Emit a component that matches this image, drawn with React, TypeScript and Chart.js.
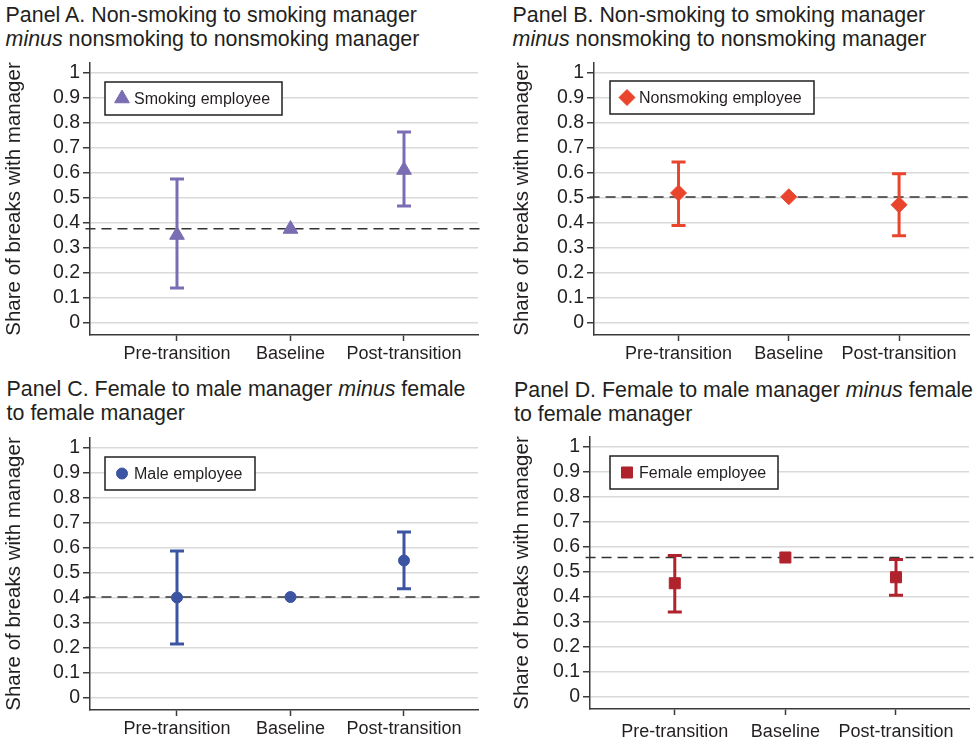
import React, { useEffect, useRef } from 'react';
import { Chart, registerables } from 'chart.js';
import { drawPoint } from 'chart.js/helpers';

Chart.register(...registerables);

// ---------------- data ----------------
const categories = ['Pre-transition', 'Baseline', 'Post-transition'];
const yTickValues = [0, 0.1, 0.2, 0.3, 0.4, 0.5, 0.6, 0.7, 0.8, 0.9, 1];
const yTickLabels = ['0', '0.1', '0.2', '0.3', '0.4', '0.5', '0.6', '0.7', '0.8', '0.9', '1'];
const yAxisTitle = 'Share of breaks with manager';

// Panel A: smoking employee
const smokingEmpPoint = [0.352, 0.376, 0.612];
const smokingEmpLow = [0.14, null, 0.468];
const smokingEmpHigh = [0.576, null, 0.764];
const smokingEmpRef = 0.377;

// Panel B: nonsmoking employee
const nonsmokingEmpPoint = [0.52, 0.505, 0.473];
const nonsmokingEmpLow = [0.39, null, 0.349];
const nonsmokingEmpHigh = [0.644, null, 0.597];
const nonsmokingEmpRef = 0.504;

// Panel C: male employee
const maleEmpPoint = [0.402, 0.404, 0.55];
const maleEmpLow = [0.216, null, 0.437];
const maleEmpHigh = [0.588, null, 0.664];
const maleEmpRef = 0.404;

// Panel D: female employee
const femaleEmpPoint = [0.455, 0.558, 0.479];
const femaleEmpLow = [0.34, null, 0.407];
const femaleEmpHigh = [0.566, null, 0.55];
const femaleEmpRef = 0.558;

// ---------------- styling ----------------
const FONT = '"Liberation Sans", Arial, Helvetica, sans-serif';
const TEXT = '#231f20';
const AXIS = '#3a3a3a';
const GRID = '#d9d9d9';

const X_MIN = 0.2335;
const X_MAX_NARROW = 3.652;
const Y_MIN = -0.048;
const Y_MAX = 1.04;

type PanelCfg = {
  label: string;
  color: string;
  pointStyle: string;
  radius: number;
  point: number[];
  low: (number | null)[];
  high: (number | null)[];
  ref: number;
  left: number;
  top: number;
  w: number;
  h: number;
  rightPad: number;
  xh: number;
  xMax: number;
  yTitlePad: number;
  xLabelPad: number;
  legendDx: number;
  legendDy: number;
};

const legendBoxPlugin = {
  id: 'legendBox',
  afterDatasetsDraw(chart: any, _args: any, opts: any) {
    if (!opts || !opts.text) return;
    const { ctx, chartArea } = chart;
    const x = chartArea.left + opts.dx;
    const y = chartArea.top + opts.dy;
    ctx.save();
    ctx.font = `16px ${FONT}`;
    const tw = ctx.measureText(opts.text).width;
    const w = Math.round(29 + tw + 12);
    const h = 33;
    ctx.fillStyle = '#ffffff';
    ctx.fillRect(x, y, w, h);
    ctx.strokeStyle = TEXT;
    ctx.lineWidth = 1.5;
    ctx.strokeRect(x, y, w, h);
    ctx.fillStyle = opts.color;
    ctx.strokeStyle = opts.color;
    ctx.lineWidth = 1;
    drawPoint(ctx, { pointStyle: opts.pointStyle, radius: opts.radius, borderWidth: 1, rotation: 0 } as any, x + 17, y + h / 2);
    ctx.fillStyle = TEXT;
    ctx.textBaseline = 'middle';
    ctx.textAlign = 'left';
    ctx.fillText(opts.text, x + 29, y + h / 2 + 1);
    ctx.restore();
  },
};

function buildConfig(cfg: PanelCfg): any {
  const datasets: any[] = [];
  // reference dashed line
  datasets.push({
    type: 'scatter',
    showLine: true,
    data: [
      { x: X_MIN - 0.04, y: cfg.ref },
      { x: cfg.xMax + 0.04, y: cfg.ref },
    ],
    borderColor: '#333333',
    borderWidth: 1.5,
    borderDash: [10, 6],
    pointRadius: 0,
    clip: false,
    order: 4,
  });
  // whiskers + caps
  cfg.low.forEach((lo, i) => {
    const hi = cfg.high[i];
    if (lo == null || hi == null) return;
    datasets.push({
      type: 'scatter',
      showLine: true,
      data: [
        { x: i + 1, y: lo },
        { x: i + 1, y: hi },
      ],
      borderColor: cfg.color,
      borderWidth: 3,
      pointRadius: 0,
      order: 3,
    });
    datasets.push({
      type: 'scatter',
      data: [
        { x: i + 1, y: lo },
        { x: i + 1, y: hi },
      ],
      pointStyle: 'line',
      pointRadius: 7,
      borderColor: cfg.color,
      pointBorderWidth: 3,
      borderWidth: 3,
      order: 2,
    });
  });
  // markers
  datasets.push({
    type: 'scatter',
    label: cfg.label,
    data: cfg.point.map((v, i) => ({ x: i + 1, y: v })),
    pointStyle: cfg.pointStyle,
    pointRadius: cfg.radius,
    backgroundColor: cfg.color,
    borderColor: cfg.color,
    pointBorderWidth: 1,
    order: 1,
  });

  return {
    type: 'scatter',
    data: { datasets },
    plugins: [legendBoxPlugin],
    options: {
      animation: false,
      responsive: false,
      maintainAspectRatio: false,
      events: [],
      layout: { padding: { top: 11, right: cfg.rightPad, left: 0, bottom: 0 } },
      plugins: {
        legend: { display: false },
        tooltip: { enabled: false },
        legendBox: {
          text: cfg.label,
          color: cfg.color,
          pointStyle: cfg.pointStyle,
          radius: cfg.radius,
          dx: cfg.legendDx,
          dy: cfg.legendDy,
        },
      },
      scales: {
        x: {
          type: 'linear',
          min: X_MIN,
          max: cfg.xMax,
          afterBuildTicks: (s: any) => {
            s.ticks = categories.map((_, i) => ({ value: i + 1 }));
          },
          afterFit: (s: any) => {
            s.height = cfg.xh;
            s.paddingLeft = 0;
            s.paddingRight = 0;
          },
          ticks: {
            autoSkip: false,
            maxRotation: 0,
            padding: cfg.xLabelPad,
            color: TEXT,
            font: { family: FONT, size: 18 },
            callback: (_v: any, i: number) => categories[i],
          },
          grid: {
            drawOnChartArea: false,
            drawTicks: true,
            tickLength: 6,
            tickWidth: 1.5,
            tickColor: AXIS,
          },
          border: { display: true, color: AXIS, width: 1.5 },
        },
        y: {
          type: 'linear',
          min: Y_MIN,
          max: Y_MAX,
          afterBuildTicks: (s: any) => {
            s.ticks = yTickValues.map((v) => ({ value: v }));
          },
          afterFit: (s: any) => {
            s.width = 90;
            s.paddingTop = 0;
            s.paddingBottom = 0;
          },
          ticks: {
            padding: 3,
            color: TEXT,
            font: { family: FONT, size: 19.5, lineHeight: 1 },
            callback: (_v: any, i: number) => yTickLabels[i],
          },
          grid: {
            color: GRID,
            lineWidth: 1.5,
            drawTicks: true,
            tickLength: 7,
            tickWidth: 1.5,
            tickColor: AXIS,
          },
          border: { display: true, color: AXIS, width: 1.5 },
          title: {
            display: true,
            text: yAxisTitle,
            color: TEXT,
            font: { family: FONT, size: 20.5, lineHeight: 1 },
            padding: { top: cfg.yTitlePad, bottom: 0 },
          },
        },
      },
    },
  };
}

function PanelChart({ cfg }: { cfg: PanelCfg }) {
  const ref = useRef<HTMLCanvasElement | null>(null);
  useEffect(() => {
    if (!ref.current) return;
    const chart = new Chart(ref.current, buildConfig(cfg));
    return () => chart.destroy();
  }, [cfg]);
  return (
    <canvas
      ref={ref}
      width={cfg.w}
      height={cfg.h}
      style={{ position: 'absolute', left: cfg.left, top: cfg.top, width: cfg.w, height: cfg.h }}
    />
  );
}

const panels: PanelCfg[] = [
  {
    label: 'Smoking employee', color: '#7a6db3', pointStyle: 'triangle', radius: 8.5,
    point: smokingEmpPoint, low: smokingEmpLow, high: smokingEmpHigh, ref: smokingEmpRef,
    left: 0, top: 52, w: 490, h: 318, rightPad: 12, xh: 35, xMax: X_MAX_NARROW,
    yTitlePad: 4, xLabelPad: 2, legendDx: 15, legendDy: 19,
  },
  {
    label: 'Nonsmoking employee', color: '#e9452d', pointStyle: 'rectRot', radius: 8,
    point: nonsmokingEmpPoint, low: nonsmokingEmpLow, high: nonsmokingEmpHigh, ref: nonsmokingEmpRef,
    left: 504, top: 52, w: 475, h: 318, rightPad: 0, xh: 35, xMax: 3.634,
    yTitlePad: 8, xLabelPad: 2, legendDx: 16, legendDy: 18,
  },
  {
    label: 'Male employee', color: '#3b55a3', pointStyle: 'circle', radius: 5.5,
    point: maleEmpPoint, low: maleEmpLow, high: maleEmpHigh, ref: maleEmpRef,
    left: 0, top: 427, w: 490, h: 316, rightPad: 12, xh: 33, xMax: X_MAX_NARROW,
    yTitlePad: 4, xLabelPad: 2, legendDx: 15, legendDy: 19,
  },
  {
    label: 'Female employee', color: '#b0222c', pointStyle: 'rect', radius: 7.8,
    point: femaleEmpPoint, low: femaleEmpLow, high: femaleEmpHigh, ref: femaleEmpRef,
    left: 500, top: 426, w: 479, h: 317, rightPad: 0, xh: 34, xMax: 3.66,
    yTitlePad: 12, xLabelPad: 6, legendDx: 20, legendDy: 19,
  },
];

const titleStyle = (left: number, top: number): React.CSSProperties => ({
  position: 'absolute',
  left,
  top,
  fontFamily: FONT,
  fontSize: 21.4,
  lineHeight: '24px',
  color: TEXT,
  whiteSpace: 'nowrap',
});

export default function App() {
  return (
    <div
      style={{
        position: 'fixed',
        left: 0,
        top: 0,
        width: 979,
        height: 743,
        background: '#ffffff',
        overflow: 'hidden',
      }}
    >
      <div style={titleStyle(5.6, 3)}>
        Panel A. Non-smoking to smoking manager
        <br />
        <i>minus</i> nonsmoking to nonsmoking manager
      </div>
      <div style={titleStyle(512.6, 2.7)}>
        Panel B. Non-smoking to smoking manager
        <br />
        <i>minus</i> nonsmoking to nonsmoking manager
      </div>
      <div style={titleStyle(6.6, 377.4)}>
        Panel C. Female to male manager <i>minus</i> female
        <br />
        to female manager
      </div>
      <div style={titleStyle(514, 378)}>
        Panel D. Female to male manager <i>minus</i> female
        <br />
        to female manager
      </div>
      {panels.map((p) => (
        <PanelChart key={p.label} cfg={p} />
      ))}
    </div>
  );
}
